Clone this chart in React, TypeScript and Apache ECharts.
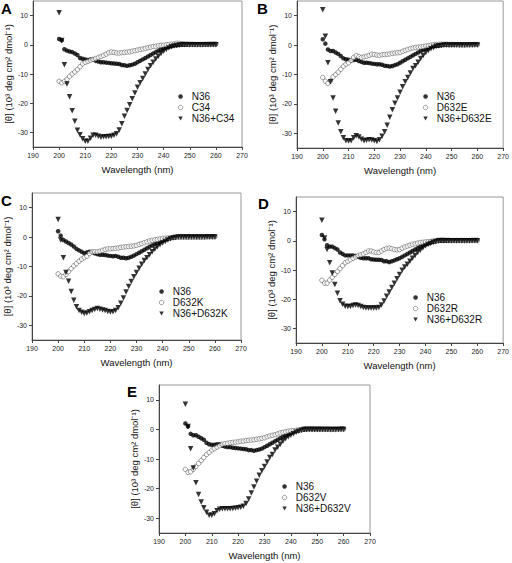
import React, { useEffect, useRef } from "react";
import * as echarts from "echarts";

const wavelengths = [
  200, 201, 202, 203, 204, 205, 206, 207, 208, 209,
  210, 211, 212, 213, 214, 215, 216, 217, 218, 219,
  220, 221, 222, 223, 224, 225, 226, 227, 228, 229,
  230, 231, 232, 233, 234, 235, 236, 237, 238, 239,
  240, 241, 242, 243, 244, 245, 246, 247, 248, 249,
  250, 251, 252, 253, 254, 255, 256, 257, 258, 259, 260,
];

const xTicks = [190, 200, 210, 220, 230, 240, 250, 260, 270];
const yTicks = [-30, -20, -10, 0, 10];

// Panel A
const n36A = [
  2, 1.5, -1.5, -2, -2.3, -2.5, -3, -3.5, -4.5, -4.8,
  -5, -5.2, -5, -5, -5.5, -5.7, -6, -6, -6.1, -6.2,
  -6.3, -6.4, -6.5, -6.6, -6.9, -7, -7.2, -7, -6.8, -6.5,
  -6, -5.5, -5, -4.5, -4, -3.5, -3, -2.5, -2, -1.6,
  -1.2, -0.9, -0.7, -0.5, -0.3, -0.2, -0.1, 0, 0, 0.1,
  0, 0.1, 0, 0.1, 0, 0, 0.1, 0.1, 0.2, 0.2, 0.2,
];
const c34A = [
  -12.5, -13, -12.5, -11.8, -10.8, -10, -9.3, -8.5, -7.5, -6.5,
  -6, -5.7, -5.3, -5, -4.7, -4.3, -4, -3.6, -3.2, -2.7,
  -2.5, -2.6, -2.8, -2.8, -2.7, -2.6, -2.5, -2.4, -2.2, -2,
  -1.8, -1.6, -1.4, -1.2, -1, -0.8, -0.6, -0.5, -0.3, -0.2,
  -0.1, 0, 0.1, 0.2, 0.3, 0.5, 0.5, 0.4, 0.3, 0.3,
  0.2, 0.2, 0.1, 0.1, 0.1, 0.1, 0.2, 0.2, 0.3, 0.3, 0.3,
];
const mixA = [
  11, 1.5, -6.8, -13.4, -17.8, -22.6, -26.2, -29.3, -30.8, -32.2,
  -33, -33, -32, -31, -31, -31.3, -31.7, -31.5, -31.5, -31.4,
  -31.3, -31, -30.5, -29.2, -27, -24.5, -22.5, -20.5, -18.5, -16.5,
  -14.5, -13, -11.5, -10, -8.5, -7.2, -6, -4.9, -3.9, -3,
  -2.2, -1.6, -1.1, -0.7, -0.4, -0.2, -0.1, 0, 0, 0,
  0, 0, 0, 0, 0, 0, 0, 0, 0, 0, 0,
];

// Panel B
const n36B = [
  2, 0.5, -1.5, -2, -2, -2.5, -3, -3.7, -4.5, -4.8,
  -5, -5.2, -5.1, -5, -5.4, -5.7, -6, -6, -6.1, -6.3,
  -6.4, -6.5, -6.5, -6.7, -7, -7.1, -7.3, -7.1, -6.8, -6.5,
  -6, -5.5, -5, -4.5, -4, -3.5, -3, -2.5, -2, -1.6,
  -1.2, -0.9, -0.6, -0.4, -0.3, -0.2, -0.1, 0, 0, 0,
  0, 0, 0.1, 0, 0, 0, 0.1, 0.1, 0.2, 0.3, 0.3,
];
const d632eB = [
  -11, -12.3, -13, -12.2, -10.8, -10, -9.2, -8.2, -7.2, -6.5,
  -6, -5.2, -4.2, -3.6, -3.9, -4.2, -4, -3.8, -3.5, -3.1,
  -3.2, -3.4, -3.5, -3.3, -3.2, -3.1, -3, -2.8, -2.7, -2.6,
  -2.5, -2.1, -1.8, -1.5, -1.2, -1, -0.8, -0.7, -0.6, -0.5,
  -0.3, -0.2, 0, 0.1, 0.2, 0.3, 0.3, 0.3, 0.3, 0.2,
  0.2, 0.2, 0.1, 0.1, 0.1, 0, 0.1, 0.1, 0.1, 0.2, 0.2,
];
const mixB = [
  12, 3, -6, -12.5, -18, -22.5, -26.5, -29.5, -31.5, -32.5,
  -32.6, -32.5, -31.5, -30.8, -31.3, -32, -32.5, -32.4, -32.2, -32.3,
  -32.5, -32.8, -32.2, -31, -29.5, -27.3, -24.5, -22, -19.8, -18,
  -16, -14.2, -12.5, -11, -9.5, -8, -7, -5.8, -4.6, -3.5,
  -2.5, -1.8, -1.2, -0.8, -0.4, -0.2, -0.1, 0, 0, 0,
  0, 0, 0, 0, 0, 0, 0, 0, 0, 0, 0,
];

// Panel C
const n36C = [
  2, 0.5, -1, -1.5, -2, -2.5, -3.2, -4, -4.5, -5,
  -5.5, -5.2, -5, -5.1, -5.5, -5.8, -6, -6, -6.1, -6.3,
  -6.4, -6.5, -6.4, -6.7, -7, -7, -7.2, -7, -6.7, -6.3,
  -5.8, -5.3, -4.8, -4.3, -3.8, -3.3, -2.8, -2.4, -2, -1.6,
  -1.2, -0.9, -0.6, -0.4, -0.2, -0.1, 0, 0, 0, 0,
  0, 0, 0, 0, 0, 0, 0, 0.1, 0.1, 0.2, 0.2,
];
const d632kC = [
  -12.5, -13.3, -13.5, -12.7, -11.7, -10.7, -9.8, -9, -8.2, -7.5,
  -7, -6.5, -5.6, -5, -5, -5, -4.8, -4.5, -4.2, -4,
  -4, -3.9, -3.8, -3.7, -3.5, -3.4, -3.3, -3.2, -3.1, -3,
  -2.8, -2.5, -2.2, -1.9, -1.6, -1.3, -1.1, -0.9, -0.8, -0.6,
  -0.5, -0.4, -0.3, -0.2, -0.1, 0, 0, 0, 0, 0,
  0, 0, 0, 0, 0, 0, 0, 0.1, 0.1, 0.1, 0.1,
];
const mixC = [
  6, -1, -7, -12, -15, -18.5, -21.5, -23.7, -25, -25.6,
  -26, -25.8, -25.4, -25, -24.6, -24.3, -24.5, -24.8, -25, -25.3,
  -25.5, -25.4, -25, -24, -22.5, -20.7, -18.7, -16.8, -15.1, -13.5,
  -12, -10.6, -9.2, -8, -7, -6, -5, -4.1, -3.3, -2.6,
  -2, -1.5, -1, -0.6, -0.3, -0.1, 0, 0, 0, 0,
  0, 0, 0, 0, 0, 0, 0, 0, 0, 0, 0,
];

// Panel D
const n36D = [
  2, 0.5, -1.5, -2, -2, -2.5, -3, -4, -4.5, -5,
  -5, -5, -5, -5.2, -5.5, -5.8, -6, -6, -6, -6.3,
  -6.4, -6.5, -6.5, -6.6, -7, -7, -7.3, -7, -6.7, -6.3,
  -6, -5.5, -5, -4.5, -4, -3.5, -3, -2.5, -2, -1.6,
  -1.2, -0.9, -0.6, -0.4, -0.2, -0.1, 0, 0, 0, 0,
  0, 0, 0, 0.1, 0, 0, 0.1, 0.1, 0.2, 0.2, 0.2,
];
const d632rD = [
  -13.5, -14.5, -14.5, -13.5, -12.5, -11.5, -10.5, -9.5, -8.5, -7.5,
  -7, -6.5, -6, -5.5, -5, -4.8, -4.5, -4, -3.5, -3.5,
  -3.8, -4, -4, -3.5, -3, -2.6, -2.5, -2.7, -3, -3.1,
  -3, -2.5, -2.1, -1.8, -1.5, -1.2, -1, -0.8, -0.6, -0.5,
  -0.4, -0.3, -0.2, -0.1, 0, 0.2, 0.3, 0.3, 0.2, 0.2,
  0.1, 0.1, 0.1, 0.1, 0.1, 0.1, 0.1, 0.1, 0.2, 0.2, 0.2,
];
const mixD = [
  7, 1, -3, -7.5, -11, -15, -18, -20.5, -21.7, -22.4,
  -22.5, -22.5, -22.2, -22, -22.2, -22.5, -22.8, -23, -23, -23,
  -23, -23, -22.8, -22, -20.6, -19, -17.5, -16, -14.5, -13,
  -11.5, -10.1, -9, -8, -7, -6, -5, -4, -3.2, -2.5,
  -1.8, -1.3, -0.9, -0.5, -0.2, 0, 0, 0, 0, 0,
  0, 0, 0, 0, 0, 0, 0, 0, 0, 0, 0,
];

// Panel E
const n36E = [
  2, 1, -1.5, -2, -2, -2.5, -3, -3.5, -4.5, -5,
  -5.2, -5.2, -5, -5, -5.5, -5.8, -6, -6, -6.2, -6.3,
  -6.4, -6.5, -6.6, -6.7, -7, -7, -7.2, -7, -6.8, -6.5,
  -6, -5.5, -5, -4.5, -4, -3.5, -3, -2.5, -2, -1.6,
  -1.2, -0.9, -0.6, -0.4, -0.2, -0.1, 0, 0, 0, 0,
  0, 0, 0, 0, 0, 0, 0, 0.1, 0.1, 0.2, 0.2,
];
const d632vE = [
  -13.5, -14.5, -14.3, -13.5, -12.5, -11.5, -10.5, -9.5, -8.5, -7.8,
  -7, -6.5, -6, -5.5, -5, -4.8, -4.7, -4.5, -4.4, -4.3,
  -4.2, -4, -4, -3.8, -3.7, -3.6, -3.5, -3.3, -3.2, -3,
  -2.8, -2.5, -2.2, -2, -1.8, -1.5, -1.2, -1, -0.8, -0.6,
  -0.5, -0.4, -0.3, -0.2, -0.1, 0.2, 0.3, 0.3, 0.3, 0.2,
  0.2, 0.2, 0.1, 0.1, 0.1, 0, 0, 0, 0.1, 0.1, 0.1,
];
const mixE = [
  8.5, 1, -6.5, -13, -18, -22, -24.5, -26.5, -28, -29,
  -29, -28.5, -27.5, -27, -26.8, -26.8, -26.8, -26.8, -26.7, -26.6,
  -26.5, -26.3, -26, -25, -23.5, -21.5, -19.5, -17.5, -15.5, -14,
  -12.5, -11, -9.5, -8.5, -7, -6, -5, -4, -3.2, -2.5,
  -2, -1.5, -1, -0.6, -0.3, 0, 0, 0, 0, 0,
  0, 0, 0, 0, 0, 0, 0, 0, 0, 0, 0,
];

const panelLetters = ["A", "B", "C", "D", "E"];
const peptideNames = ["C34", "D632E", "D632K", "D632R", "D632V"];
const mixNames = ["N36+C34", "N36+D632E", "N36+D632K", "N36+D632R", "N36+D632V"];
const n36Values = [n36A, n36B, n36C, n36D, n36E];
const peptideValues = [c34A, d632eB, d632kC, d632rD, d632vE];
const mixValues = [mixA, mixB, mixC, mixD, mixE];

const FONT = "Liberation Sans, Arial, sans-serif";
const DOWN_TRIANGLE = "path://M0,0 L10,0 L5,9 Z";

// layout
const grids = [
  { left: 33, top: 1, width: 209, height: 146 },
  { left: 297, top: 1, width: 208, height: 147 },
  { left: 32, top: 193, width: 209, height: 147 },
  { left: 296, top: 197, width: 209, height: 146 },
  { left: 159, top: 385, width: 211, height: 148 },
];
const letterPos = [
  { left: 1, top: 1 },
  { left: 257, top: 1 },
  { left: 1, top: 193 },
  { left: 258, top: 196 },
  { left: 127, top: 384 },
];
const legendPos = [
  { left: 178, top: 91 },
  { left: 423, top: 91 },
  { left: 159, top: 286 },
  { left: 413, top: 292 },
  { left: 282, top: 481 },
];

export default function App() {
  const ref = useRef<HTMLDivElement>(null);
  useEffect(() => {
    if (!ref.current) return;
    const chart = echarts.init(ref.current, undefined, { renderer: "svg" });
    const toPairs = (vals: number[]) => wavelengths.map((w, i) => [w, vals[i]]);
    const series: any[] = [];
    for (let p = 0; p < 5; p++) {
      series.push({
        type: "scatter",
        name: "N36",
        xAxisIndex: p,
        yAxisIndex: p,
        symbol: "circle",
        symbolSize: 4.5,
        itemStyle: { color: "#000" },
        data: toPairs(n36Values[p]),
      });
      series.push({
        type: "scatter",
        name: peptideNames[p],
        xAxisIndex: p,
        yAxisIndex: p,
        symbol: "circle",
        symbolSize: 4.5,
        itemStyle: { color: "#fff", borderColor: "#333", borderWidth: 0.6 },
        data: toPairs(peptideValues[p]),
      });
      series.push({
        type: "scatter",
        name: mixNames[p],
        xAxisIndex: p,
        yAxisIndex: p,
        symbol: "triangle",
        symbolRotate: 180,
        symbolSize: 5.5,
        itemStyle: { color: "#000" },
        data: toPairs(mixValues[p]),
      });
    }
    const option: any = {
      animation: false,
      backgroundColor: "#fff",
      textStyle: { fontFamily: FONT },
      title: panelLetters.map((t, i) => ({
        text: t,
        left: letterPos[i].left,
        top: letterPos[i].top,
        padding: 0,
        textStyle: { fontSize: 15, fontWeight: "bold", color: "#000", fontFamily: FONT },
      })),
      grid: grids.map((g) => ({
        ...g,
        show: true,
        borderColor: "#999",
        borderWidth: 1,
        backgroundColor: "transparent",
      })),
      legend: legendPos.map((lp, i) => ({
        orient: "vertical",
        left: lp.left,
        top: lp.top,
        padding: 0,
        itemWidth: 4.5,
        itemHeight: 4.5,
        itemGap: 0,
        selectedMode: false,
        textStyle: {
          fontSize: 10,
          color: "#111",
          lineHeight: 11,
          fontFamily: FONT,
          padding: [0, 0, 0, 4],
        },
        data: [
          { name: "N36", icon: "circle" },
          { name: peptideNames[i], icon: "circle", itemStyle: { borderWidth: 0.6 } },
          { name: mixNames[i], icon: DOWN_TRIANGLE },
        ],
      })),
      xAxis: grids.map((_, i) => ({
        type: "value",
        gridIndex: i,
        min: xTicks[0],
        max: xTicks[xTicks.length - 1],
        interval: 10,
        name: "Wavelength (nm)",
        nameLocation: "middle",
        nameGap: 17,
        nameTextStyle: { fontSize: 9.5, color: "#111", fontFamily: FONT },
        axisLine: { onZero: false, lineStyle: { color: "#444", width: 1 } },
        axisTick: { show: true, length: 3, lineStyle: { color: "#444" } },
        axisLabel: { fontSize: 7, color: "#222", margin: 5, fontFamily: FONT },
        splitLine: { show: false },
      })),
      yAxis: grids.map((_, i) => ({
        type: "value",
        gridIndex: i,
        min: -35,
        max: 15,
        name: "[θ] (10³ deg cm² dmol⁻¹)",
        nameLocation: "middle",
        nameGap: 18,
        nameTextStyle: { fontSize: 9.5, color: "#111", fontFamily: FONT },
        axisLine: { onZero: false, lineStyle: { color: "#444", width: 1 } },
        axisTick: { show: true, length: 3, customValues: yTicks, lineStyle: { color: "#444" } },
        axisLabel: { fontSize: 7, color: "#222", margin: 5, customValues: yTicks, fontFamily: FONT },
        splitLine: { show: false },
      })),
      series,
    };
    chart.setOption(option);
    return () => chart.dispose();
  }, []);
  return (
    <div
      ref={ref}
      style={{ position: "fixed", left: 0, top: 0, width: 512, height: 563, background: "#fff" }}
    />
  );
}
